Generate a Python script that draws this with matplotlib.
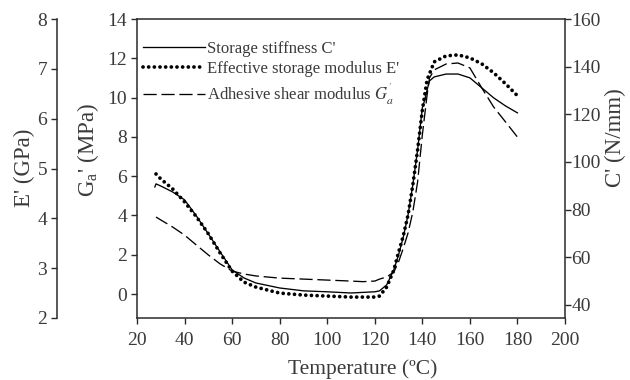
import matplotlib
matplotlib.use("Agg")
import matplotlib.pyplot as plt

plt.rcParams['font.family'] = ['Liberation Serif', 'DejaVu Serif']
plt.rcParams['mathtext.fontset'] = 'stix'

# ---- data ----
T_C = [27.5, 28, 30, 35, 40, 45, 50, 55, 60, 65, 70, 80, 90, 100, 110, 120, 122, 125, 128, 130,
       132, 134, 136, 138, 140, 141, 142, 143, 145, 150, 155, 160, 165, 170, 175, 180]
C_storage = [89.5, 90.8, 89.9, 87.4, 84.1, 77.3, 69.8, 62.2, 54.7, 51.3, 49.2, 47.1, 45.9, 45.5, 45.0,
             45.5, 45.9, 48.4, 54.7, 61.0, 68.5, 77.8, 90.4, 105.0, 122.7, 126.0, 130.2, 134.0,
             135.7, 136.9, 136.9, 135.3, 131.1, 126.9, 123.5, 120.6]

T_E = [28, 30, 35, 40, 45, 50, 55, 60, 65, 70, 80, 90, 100, 110, 120, 122, 125, 128, 130, 132,
       134, 136, 138, 140, 142, 145, 150, 155, 160, 165, 170, 175, 180]
E_eff = [4.89, 4.79, 4.59, 4.33, 4.03, 3.69, 3.30, 2.94, 2.72, 2.62, 2.50, 2.46, 2.44, 2.42, 2.42,
         2.44, 2.62, 2.96, 3.32, 3.65, 4.07, 4.67, 5.37, 6.17, 6.78, 7.14, 7.26, 7.28, 7.22, 7.10,
         6.92, 6.70, 6.46]

T_G = [28, 30, 35, 40, 45, 50, 55, 60, 65, 70, 80, 90, 100, 110, 115, 120, 122, 125, 128, 130,
       132, 134, 136, 138, 140, 142, 143, 145, 150, 155, 160, 163, 165, 170, 175, 180]
G_adh = [3.92, 3.77, 3.41, 3.00, 2.49, 1.99, 1.53, 1.17, 1.02, 0.92, 0.81, 0.76, 0.71, 0.66, 0.63,
         0.66, 0.76, 0.87, 1.12, 1.63, 2.34, 3.11, 4.18, 5.70, 8.10, 10.13, 11.00, 11.41, 11.71,
         11.76, 11.51, 10.90, 10.49, 9.52, 8.76, 7.99]

x_ticks = [20, 40, 60, 80, 100, 120, 140, 160, 180, 200]
g_ticks = [0, 2, 4, 6, 8, 10, 12, 14]
c_ticks = [40, 60, 80, 100, 120, 140, 160]
e_ticks = [2, 3, 4, 5, 6, 7, 8]

labels = ["Storage stiffness C'", "Effective storage modulus E'", r"Adhesive shear modulus $G_a^{'}$"]

# ---- style ----
TXT = '#3a3a3a'
SP = '#2a2a2a'
FS = 14
LFS = 16.5
W, H = 630, 380
fig = plt.figure(figsize=(W / 100, H / 100), dpi=100)
L, R, B, Tp = 137, 565, 318, 19
AW, AH = R - L, B - Tp
ax = fig.add_axes([L / W, 1 - B / H, AW / W, AH / H])
axC = ax.twinx()
axE = ax.twinx()

ax.set_xlim(20, 200)
ax.set_ylim(-1.22, 14)
axC.set_ylim(34.5, 160)
axE.set_ylim(2, 8)

dot_style = (0, (0.01, 1.5))
lC, = axC.plot(T_C, C_storage, color='black', lw=0.95, solid_joinstyle='round')
lE, = axE.plot(T_E, E_eff, color='black', lw=2.7, linestyle=dot_style, dash_capstyle='round')
lG, = ax.plot(T_G, G_adh, color='black', lw=0.95, linestyle=(0, (10, 3.6)))

ax.set_xticks(x_ticks)
ax.set_yticks(g_ticks)
axC.set_yticks(c_ticks)
axE.set_yticks(e_ticks)

for a in (ax, axC, axE):
    a.tick_params(direction='out', length=4, width=1, colors=SP, labelcolor=TXT, labelsize=FS, pad=3)
    for s in a.spines.values():
        s.set_color(SP)
        s.set_linewidth(1.1)
ax.tick_params(axis='x', pad=6)
axC.tick_params(axis='y', pad=0.5)

ax.spines['right'].set_visible(False)
axC.spines['left'].set_visible(False)
axC.spines['top'].set_visible(False)
axC.spines['bottom'].set_visible(False)
for s in ('right', 'top', 'bottom'):
    axE.spines[s].set_visible(False)
axE.spines['left'].set_visible(True)
axE.spines['left'].set_position(('outward', 80 * 0.72))
axE.yaxis.set_ticks_position('left')
axE.yaxis.set_label_position('left')
ax.tick_params(axis='y', right=False)

ax.set_xlabel('Temperature (ºC)', fontsize=15.5, color=TXT)
ax.xaxis.set_label_coords((363 - L) / AW, -(359 - B) / AH)
ax.set_ylabel(r"G$_\mathregular{a}$' (MPa)", fontsize=LFS, color=TXT)
ax.yaxis.set_label_coords(-(L - 101) / AW, (B - 150) / AH)
axC.set_ylabel("C' (N/mm)", fontsize=LFS, color=TXT)
axC.yaxis.set_label_coords((605 - L) / AW, (B - 138) / AH)
axE.set_ylabel("E' (GPa)", fontsize=LFS, color=TXT)
axE.yaxis.set_label_coords(-(L - 35) / AW, (B - 168) / AH)

leg = axE.legend([lC, lE, lG], labels, loc='upper left',
                 bbox_to_anchor=((143 - L) / AW, 1 - (41 - Tp) / AH),
                 frameon=False, fontsize=12, handlelength=3.7, handletextpad=0.15,
                 labelspacing=0.25, borderaxespad=0, borderpad=0)
for t in leg.get_texts():
    t.set_color(TXT)

fig.savefig('out.png', dpi=100)
